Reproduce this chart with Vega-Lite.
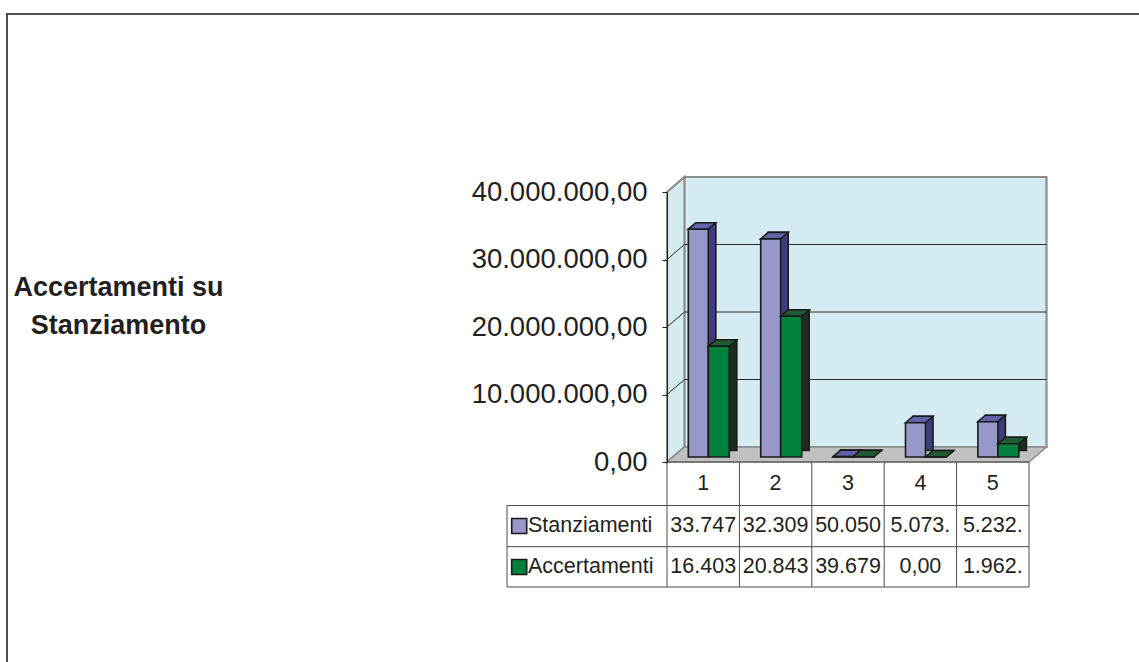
{
  "$schema": "https://vega.github.io/schema/vega-lite/v6.json",
  "width": 362,
  "height": 270,
  "autosize": {"type": "none"},
  "padding": {"left": 667, "top": 192, "right": 110, "bottom": 200},
  "background": "white",
  "config": {
    "view": {"stroke": null},
    "font": "Liberation Sans",
    "locale": {"number": {"decimal": ",", "thousands": ".", "grouping": [3], "currency": ["", " €"]}}
  },
  "datasets": {
    "bars": [
      {"cat": 1, "series": "Stanziamenti", "value": 33747000, "label": "33.747"},
      {"cat": 2, "series": "Stanziamenti", "value": 32309000, "label": "32.309"},
      {"cat": 3, "series": "Stanziamenti", "value": 50050, "label": "50.050"},
      {"cat": 4, "series": "Stanziamenti", "value": 5073000, "label": "5.073."},
      {"cat": 5, "series": "Stanziamenti", "value": 5232000, "label": "5.232."},
      {"cat": 1, "series": "Accertamenti", "value": 16403000, "label": "16.403"},
      {"cat": 2, "series": "Accertamenti", "value": 20843000, "label": "20.843"},
      {"cat": 3, "series": "Accertamenti", "value": 39679, "label": "39.679"},
      {"cat": 4, "series": "Accertamenti", "value": 0, "label": "0,00"},
      {"cat": 5, "series": "Accertamenti", "value": 1962000, "label": "1.962."}
    ],
    "grid": [{"v": 10000000}, {"v": 20000000}, {"v": 30000000}]
  },
  "layer": [
    {
      "data": {"values": [{}]},
      "mark": {"type": "point", "shape": "M17.5,-15L379.5,-15L379.5,255L17.5,255Z M0,0L17.5,-15L17.5,255L0,270Z", "size": 4, "filled": true, "fill": "#d3ebf1", "stroke": "#8c8c8c", "strokeWidth": 2.2, "opacity": 1},
      "encoding": {
        "x": {"datum": 0.5, "type": "quantitative", "scale": {"domain": [0.5, 5.5], "nice": false, "zero": false}, "axis": null},
        "y": {"datum": 40000000, "type": "quantitative", "scale": {"domain": [0, 40000000], "nice": false}}
      }
    },
    {
      "data": {"values": [{}]},
      "mark": {"type": "point", "shape": "M0,0L17.5,-15L379.5,-15L362,0Z", "size": 4, "filled": true, "fill": "#c0c0c0", "stroke": "#8c8c8c", "strokeWidth": 1.5, "opacity": 1},
      "encoding": {
        "x": {"datum": 0.5, "type": "quantitative", "axis": null},
        "y": {"datum": 0, "type": "quantitative"}
      }
    },
    {
      "data": {"name": "grid"},
      "mark": {"type": "point", "shape": "M0,0L17.5,-15L379.5,-15", "size": 4, "filled": false, "stroke": "#2b2b2b", "strokeWidth": 1, "opacity": 1},
      "encoding": {
        "x": {"datum": 0.5, "type": "quantitative", "axis": null},
        "y": {"field": "v", "type": "quantitative"}
      }
    },
    {
      "data": {"name": "bars"},
      "transform": [{"filter": "datum.series === 'Stanziamenti'"}],
      "mark": {"type": "rect", "xOffset": -7.4, "x2Offset": 12.6, "yOffset": -11.5, "y2Offset": -11.5, "fill": "#3d3d80", "stroke": "#1a1a1a", "strokeWidth": 1.6},
      "encoding": {
        "x": {"field": "cat", "type": "quantitative", "axis": null},
        "x2": {"field": "cat"},
        "y": {"field": "value", "type": "quantitative"},
        "y2": {"datum": 0}
      }
    },
    {
      "data": {"name": "bars"},
      "transform": [{"filter": "datum.series === 'Stanziamenti'"}],
      "mark": {"type": "point", "shape": "M0,0L7.5,-6.5L27.5,-6.5L20,0Z", "size": 4, "filled": true, "fill": "#6262aa", "stroke": "#1a1a1a", "strokeWidth": 1.6, "opacity": 1, "xOffset": -14.9, "yOffset": -5},
      "encoding": {
        "x": {"field": "cat", "type": "quantitative", "axis": null},
        "y": {"field": "value", "type": "quantitative"}
      }
    },
    {
      "data": {"name": "bars"},
      "transform": [{"filter": "datum.series === 'Stanziamenti'"}],
      "mark": {"type": "rect", "xOffset": -14.9, "x2Offset": 5.1, "yOffset": -5, "y2Offset": -5, "fill": "#9797c9", "stroke": "#1a1a1a", "strokeWidth": 1.6},
      "encoding": {
        "x": {"field": "cat", "type": "quantitative", "axis": null},
        "x2": {"field": "cat"},
        "y": {"field": "value", "type": "quantitative",
          "axis": {
            "title": ["Accertamenti su", "Stanziamento"],
            "titleAngle": 0, "titleX": -549, "titleY": 103, "titleAlign": "center", "titleBaseline": "alphabetic",
            "titleFont": "Liberation Sans", "titleFontSize": 27, "titleFontWeight": "bold", "titleColor": "#231f20", "titleLineHeight": 38,
            "values": [0, 10000000, 20000000, 30000000, 40000000],
            "format": ",.2f",
            "grid": false, "tickSize": 5, "tickColor": "#231f20", "domainColor": "#231f20",
            "labelPadding": 15, "labelFontSize": 27.5, "labelColor": "#231f20", "labelFont": "Liberation Sans", "labelLimit": 0,
            "zindex": 1
          }
        },
        "y2": {"datum": 0}
      }
    },
    {
      "data": {"name": "bars"},
      "transform": [{"filter": "datum.series === 'Accertamenti'"}],
      "mark": {"type": "rect", "xOffset": 12.6, "x2Offset": 33.6, "yOffset": -11.5, "y2Offset": -11.5, "fill": "#1b2e20", "stroke": "#1a1a1a", "strokeWidth": 1.6},
      "encoding": {
        "x": {"field": "cat", "type": "quantitative", "axis": null},
        "x2": {"field": "cat"},
        "y": {"field": "value", "type": "quantitative"},
        "y2": {"datum": 0}
      }
    },
    {
      "data": {"name": "bars"},
      "transform": [{"filter": "datum.series === 'Accertamenti'"}],
      "mark": {"type": "point", "shape": "M0,0L7.5,-6.5L28.5,-6.5L21,0Z", "size": 4, "filled": true, "fill": "#1f5a32", "stroke": "#1a1a1a", "strokeWidth": 1.6, "opacity": 1, "xOffset": 5.1, "yOffset": -5},
      "encoding": {
        "x": {"field": "cat", "type": "quantitative", "axis": null},
        "y": {"field": "value", "type": "quantitative"}
      }
    },
    {
      "data": {"name": "bars"},
      "transform": [{"filter": "datum.series === 'Accertamenti'"}],
      "mark": {"type": "rect", "xOffset": 5.1, "x2Offset": 26.1, "yOffset": -5, "y2Offset": -5, "fill": "#00803c", "stroke": "#1a1a1a", "strokeWidth": 1.6},
      "encoding": {
        "x": {"field": "cat", "type": "quantitative", "axis": null},
        "x2": {"field": "cat"},
        "y": {"field": "value", "type": "quantitative"},
        "y2": {"datum": 0}
      }
    },
    {
      "data": {"values": [{}]},
      "mark": {"type": "point", "shape": "M0,0L362,0M-160,43.5L362,43.5M-160,84.7L362,84.7M-160,125L362,125M-160,43.5L-160,125M0,0L0,125M72.4,0L72.4,125M144.8,0L144.8,125M217.2,0L217.2,125M289.6,0L289.6,125M362,0L362,125", "size": 4, "filled": false, "stroke": "#4d4d4d", "strokeWidth": 1, "opacity": 1},
      "encoding": {
        "x": {"datum": 0.5, "type": "quantitative", "axis": null},
        "y": {"datum": 0, "type": "quantitative"}
      }
    },
    {
      "data": {"values": [{}]},
      "mark": {"type": "point", "shape": "M-660,700L-660,-178L700,-178", "size": 4, "filled": false, "stroke": "#4d4d4d", "strokeWidth": 2, "opacity": 1},
      "encoding": {
        "x": {"datum": 0.5, "type": "quantitative", "axis": null},
        "y": {"datum": 40000000, "type": "quantitative"}
      }
    },
    {
      "data": {"name": "bars"},
      "transform": [{"filter": "datum.series === 'Stanziamenti'"}],
      "mark": {"type": "text", "fontSize": 21.5, "font": "Liberation Sans", "color": "#231f20", "align": "center", "baseline": "middle", "yOffset": 21.5},
      "encoding": {
        "x": {"field": "cat", "type": "quantitative", "axis": null},
        "y": {"datum": 0, "type": "quantitative"},
        "text": {"field": "cat"}
      }
    },
    {
      "data": {"name": "bars"},
      "transform": [{"filter": "datum.series === 'Stanziamenti'"}],
      "mark": {"type": "text", "fontSize": 21.5, "font": "Liberation Sans", "color": "#231f20", "align": "center", "baseline": "middle", "yOffset": 64},
      "encoding": {
        "x": {"field": "cat", "type": "quantitative", "axis": null},
        "y": {"datum": 0, "type": "quantitative"},
        "text": {"field": "label"}
      }
    },
    {
      "data": {"name": "bars"},
      "transform": [{"filter": "datum.series === 'Accertamenti'"}],
      "mark": {"type": "text", "fontSize": 21.5, "font": "Liberation Sans", "color": "#231f20", "align": "center", "baseline": "middle", "yOffset": 105},
      "encoding": {
        "x": {"field": "cat", "type": "quantitative", "axis": null},
        "y": {"datum": 0, "type": "quantitative"},
        "text": {"field": "label"}
      }
    },
    {
      "data": {"name": "bars"},
      "transform": [{"filter": "datum.series === 'Stanziamenti' && datum.cat === 1"}],
      "mark": {"type": "point", "shape": "square", "size": 225, "filled": true, "fill": "#9797c9", "stroke": "#1a1a1a", "strokeWidth": 1.6, "opacity": 1, "xOffset": -147.8, "yOffset": 64},
      "encoding": {
        "x": {"datum": 0.5, "type": "quantitative", "axis": null},
        "y": {"datum": 0, "type": "quantitative"}
      }
    },
    {
      "data": {"name": "bars"},
      "transform": [{"filter": "datum.series === 'Accertamenti' && datum.cat === 1"}],
      "mark": {"type": "point", "shape": "square", "size": 225, "filled": true, "fill": "#00803c", "stroke": "#1a1a1a", "strokeWidth": 1.6, "opacity": 1, "xOffset": -147.8, "yOffset": 105},
      "encoding": {
        "x": {"datum": 0.5, "type": "quantitative", "axis": null},
        "y": {"datum": 0, "type": "quantitative"}
      }
    },
    {
      "data": {"name": "bars"},
      "transform": [{"filter": "datum.series === 'Stanziamenti' && datum.cat === 1"}],
      "mark": {"type": "text", "fontSize": 21.5, "font": "Liberation Sans", "color": "#231f20", "align": "left", "baseline": "middle", "dx": -139, "yOffset": 64},
      "encoding": {
        "x": {"datum": 0.5, "type": "quantitative", "axis": null},
        "y": {"datum": 0, "type": "quantitative"},
        "text": {"field": "series"}
      }
    },
    {
      "data": {"name": "bars"},
      "transform": [{"filter": "datum.series === 'Accertamenti' && datum.cat === 1"}],
      "mark": {"type": "text", "fontSize": 21.5, "font": "Liberation Sans", "color": "#231f20", "align": "left", "baseline": "middle", "dx": -139, "yOffset": 105},
      "encoding": {
        "x": {"datum": 0.5, "type": "quantitative", "axis": null},
        "y": {"datum": 0, "type": "quantitative"},
        "text": {"field": "series"}
      }
    }
  ]
}
